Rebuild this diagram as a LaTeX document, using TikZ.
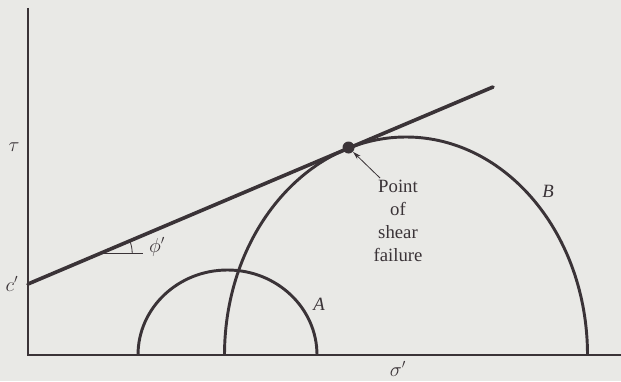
\documentclass[tikz,border=0pt]{standalone}
\usepackage{fontspec}
\setmainfont{Liberation Serif}
\usetikzlibrary{arrows.meta,positioning,backgrounds}

\definecolor{ink}{HTML}{3A3337}
\definecolor{paper}{HTML}{E9E9E6}

\begin{document}
\begin{tikzpicture}[
  x=0.03cm, y=0.03cm,
  font=\fontsize{16}{19.5}\selectfont,
  axis/.style={draw=ink, line width=1.2pt},
  mohr/.style={draw=ink, line width=2.5pt},
  env/.style={draw=ink, line width=3.1pt, line cap=round},
  fine/.style={draw=ink, line width=0.7pt},
  lbl/.style={text=ink, inner sep=0pt},
]
\fill[paper] (0,0) rectangle (621,381);
\useasboundingbox (0,0) rectangle (621,381);

% axes
\coordinate (O) at (28,26);
\coordinate (T) at (28,373);
\coordinate (R) at (621,26);
\draw[axis] (T) -- (O) -- (R);
\node[lbl] (tau) at (14,234) {$\tau$};
\node[lbl] (sig) at (398,12) {$\sigma'$};

% Mohr circles A and B
\draw[mohr] (138,26) arc[start angle=180, end angle=0, x radius=89.5, y radius=85];
\draw[mohr] (224.5,26) arc[start angle=180, end angle=0, x radius=181.5, y radius=218];
\node[lbl] (a) at (319,77) {\itshape A};
\node[lbl] (b) at (548,190) {\itshape B};

% failure envelope
\coordinate (C) at (28,97);
\coordinate (E) at (493,294);
\draw[env] (C) -- (E);
\node[lbl] (c) at (12,97) {$c'$};

% friction angle
\coordinate (P) at (101.2,128);
\draw[fine] (P) -- (143,128);
\draw[fine] (132.2,128) arc[start angle=0, end angle=23, radius=31];
\node[lbl] (phi) at (157,134) {$\phi'$};

% point of shear failure
\node[circle, fill=ink, minimum size=0.36cm, inner sep=0pt] (fp) at (348.5,233.5) {};
\node[lbl, align=center, anchor=north] (pt) at (398,201) {Point\\of\\shear\\failure};
\coordinate (tail) at (380,203);
\draw[fine, -{Stealth[length=7pt,width=4pt]}] (tail) -- (fp);
\end{tikzpicture}
\end{document}
